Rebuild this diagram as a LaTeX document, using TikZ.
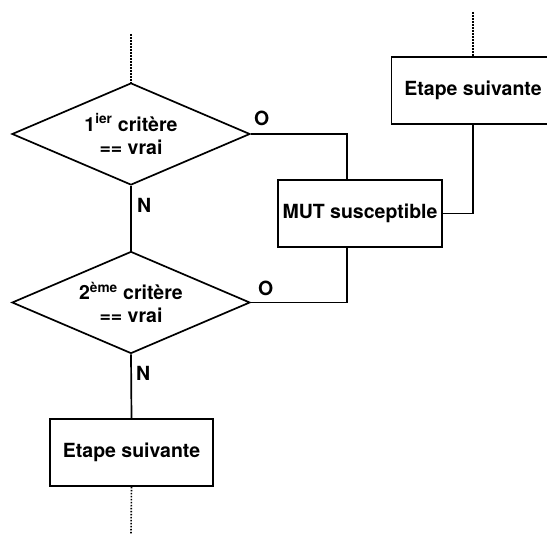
\documentclass[tikz,border=0pt]{standalone}
\usepackage{fontspec}
\setmainfont{TeX Gyre Heros}
\usetikzlibrary{shapes.geometric}
\tikzstyle{process} = [rectangle, minimum width=163pt, minimum height=67pt, inner sep=0pt, text centered, draw=black, line width=1.7pt]
\tikzstyle{decision} = [diamond, aspect=2.33, minimum width=238pt, minimum height=102pt, inner sep=0pt, align=center, draw=black, line width=1.7pt]
\tikzstyle{line} = [line width=1.7pt]
\tikzstyle{cont} = [line width=1.6pt, dash pattern=on 1.6pt off 1.4pt]
\tikzstyle{lbl} = [inner sep=0pt]

\begin{document}
\begin{tikzpicture}[x=1pt, y=-1pt, font=\fontsize{19.5}{23}\selectfont\bfseries]
      \useasboundingbox (0,0) rectangle (547,534);
      \clip (0,0) rectangle (547,534);

      \node (crit1)  [decision] at (131,134)   {1\textsuperscript{ier} critère\\== vrai};
      \node (crit2)  [decision] at (131,302.5) {2\textsuperscript{ème} critère\\== vrai};
      \node (next1)  [process]  at (131.5,452.5) {Etape suivante};
      \node (mut)    [process, minimum width=164pt] at (360,213.5) {MUT susceptible};
      \node (next2)  [process]  at (473,90.5)  {Etape suivante};

      \coordinate (in1)  at (131,34);
      \coordinate (in2)  at (473,12);
      \coordinate (out1) at (131,534);

      \draw [cont] (in1) -- (crit1.north);
      \draw [cont] (in2) -- (next2.north);
      \draw [cont] (next1.south) -- (out1);

      \draw [line] (crit1.south) -- (crit2.north);
      \draw [line] (crit2.south) -- (next1.north);
      \draw [line] (crit1.east) -| ([xshift=-13pt]mut.north);
      \draw [line] (crit2.east) -| ([xshift=-13pt]mut.south);
      \draw [line] (next2.south) |- (mut.east);

      \node (o1) [lbl, anchor=south west] at ([shift={(3pt,8pt)}]crit1.east) {O};
      \node (o2) [lbl, anchor=south west] at ([shift={(7pt,7pt)}]crit2.east) {O};
      \node (n1) [lbl, anchor=north west] at ([shift={(6pt,-12pt)}]crit1.south) {N};
      \node (n2) [lbl, anchor=north west] at ([shift={(5pt,-12pt)}]crit2.south) {N};
    \end{tikzpicture}
\end{document}
